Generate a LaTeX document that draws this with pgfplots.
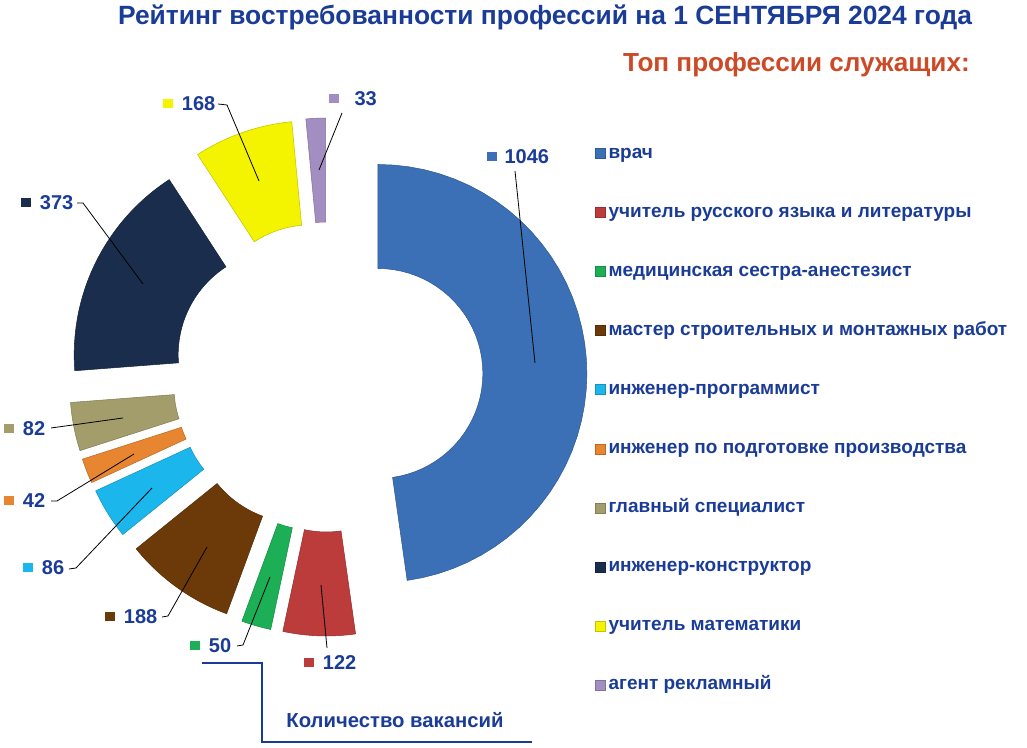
\documentclass[border=0pt]{standalone}
\usepackage{pgfplots}
\pgfplotsset{compat=1.18}
\usepackage{fontspec}
\setmainfont{Liberation Sans}

\definecolor{cVrach}{HTML}{3B70B6}
\definecolor{cRus}{HTML}{BC3B3B}
\definecolor{cMed}{HTML}{1DAF55}
\definecolor{cMaster}{HTML}{6B3A08}
\definecolor{cProg}{HTML}{1BB7EC}
\definecolor{cPodg}{HTML}{E88530}
\definecolor{cGlav}{HTML}{A29D6B}
\definecolor{cKonstr}{HTML}{1A2D4C}
\definecolor{cMath}{HTML}{F4F400}
\definecolor{cAgent}{HTML}{A28EC0}
\definecolor{txtblue}{HTML}{1A3C96}
\definecolor{subred}{HTML}{CC4A26}

% data (number of vacancies)
\def\vA{1046}\def\vB{122}\def\vC{50}\def\vD{188}\def\vE{86}
\def\vF{42}\def\vG{82}\def\vH{373}\def\vI{168}\def\vJ{33}
\pgfmathsetmacro\total{\vA+\vB+\vC+\vD+\vE+\vF+\vG+\vH+\vI+\vJ}
\def\Cx{328}\def\Cy{371}\def\Dx{50}\def\Ro{209}\def\Ri{105}
\def\cum{0}
\newcommand{\seg}[2]{%
  \pgfmathsetmacro\aA{90-360*(\cum/\total)}%
  \pgfmathsetmacro\newcum{\cum+#1}%
  \xdef\cum{\newcum}%
  \pgfmathsetmacro\aB{90-360*(\cum/\total)}%
  \pgfmathsetmacro\cx{\Cx+\Dx*cos((\aA+\aB)/2)}%
  \pgfmathsetmacro\cy{\Cy+\Dx*sin((\aA+\aB)/2)}%
  \addplot[fill=#2, draw=#2!80!black, line width=0.4pt, samples at={0,1,...,40,100,101,...,140}, variable=\t]
   ({\cx+(\t<50?\Ro:\Ri)*cos(\t<50?\aA+(\aB-\aA)*\t/40:\aB-(\aB-\aA)*(\t-100)/40)},
    {\cy+(\t<50?\Ro:\Ri)*sin(\t<50?\aA+(\aB-\aA)*\t/40:\aB-(\aB-\aA)*(\t-100)/40)}) -- cycle;
}
\newcommand{\sq}[1]{\textcolor{#1}{\rule[2pt]{7pt}{7pt}}}

\begin{document}
\begin{tikzpicture}
\begin{axis}[
  x=0.75pt, y=0.75pt,
  xmin=0, xmax=1027, ymin=0, ymax=748,
  enlargelimits=false, hide axis, clip=false,
  legend style={at={(axis description cs:0.5794,0.8068)}, anchor=north west,
    draw=none, fill=none, inner sep=0pt, row sep=31.3pt, column sep=2pt,
    font=\fontsize{14.25}{16}\selectfont\bfseries, text=txtblue,
    nodes={inner sep=0pt, text height=10pt, text depth=3pt}},
  legend cell align=left,
  legend image code/.code={\fill[#1] (0pt,-3.75pt) rectangle (7.5pt,3.75pt);},
]
\addplot[draw=none, forget plot] coordinates {(0,0) (1027,748)};
\seg{\vA}{cVrach}\addlegendentry{врач}
\seg{\vB}{cRus}\addlegendentry{учитель русского языка и литературы}
\seg{\vC}{cMed}\addlegendentry{медицинская сестра-анестезист}
\seg{\vD}{cMaster}\addlegendentry{мастер строительных и монтажных работ}
\seg{\vE}{cProg}\addlegendentry{инженер-программист}
\seg{\vF}{cPodg}\addlegendentry{инженер по подготовке производства}
\seg{\vG}{cGlav}\addlegendentry{главный специалист}
\seg{\vH}{cKonstr}\addlegendentry{инженер-конструктор}
\seg{\vI}{cMath}\addlegendentry{учитель математики}
\seg{\vJ}{cAgent}\addlegendentry{агент рекламный}

% leader lines
\addplot[black, line width=0.6pt, forget plot] coordinates {(515,577) (535,385)};
\addplot[black, line width=0.6pt, forget plot] coordinates {(327,100) (321,163)};
\addplot[black, line width=0.6pt, forget plot] coordinates {(237,102) (243,103) (270,171)};
\addplot[black, line width=0.6pt, forget plot] coordinates {(162,131) (168,132) (207,201)};
\addplot[black, line width=0.6pt, forget plot] coordinates {(69,179) (76,180) (152,260)};
\addplot[black, line width=0.6pt, forget plot] coordinates {(51,247) (57,247) (134,294)};
\addplot[black, line width=0.6pt, forget plot] coordinates {(51,320) (123,330)};
\addplot[black, line width=0.6pt, forget plot] coordinates {(77,545) (83,545) (143,464)};
\addplot[black, line width=0.6pt, forget plot] coordinates {(218,644) (227,643) (259,567)};
\addplot[black, line width=0.6pt, forget plot] coordinates {(342,635) (319,578)};
% bracket
\addplot[txtblue, line width=2pt, forget plot] coordinates {(202,85) (262,85) (262,6) (532,6)};

% value labels
\node[anchor=west, inner sep=0pt, font=\fontsize{15}{18}\selectfont\bfseries, text=txtblue] at (axis cs:487,591) {\sq{cVrach}\hspace{6pt}\vA};
\node[anchor=west, inner sep=0pt, font=\fontsize{15}{18}\selectfont\bfseries, text=txtblue] at (axis cs:304,85) {\sq{cRus}\hspace{7pt}\vB};
\node[anchor=west, inner sep=0pt, font=\fontsize{15}{18}\selectfont\bfseries, text=txtblue] at (axis cs:190,102) {\sq{cMed}\hspace{7pt}\vC};
\node[anchor=west, inner sep=0pt, font=\fontsize{15}{18}\selectfont\bfseries, text=txtblue] at (axis cs:105,131) {\sq{cMaster}\hspace{7pt}\vD};
\node[anchor=west, inner sep=0pt, font=\fontsize{15}{18}\selectfont\bfseries, text=txtblue] at (axis cs:23,180) {\sq{cProg}\hspace{7pt}\vE};
\node[anchor=west, inner sep=0pt, font=\fontsize{15}{18}\selectfont\bfseries, text=txtblue] at (axis cs:4,247) {\sq{cPodg}\hspace{7pt}\vF};
\node[anchor=west, inner sep=0pt, font=\fontsize{15}{18}\selectfont\bfseries, text=txtblue] at (axis cs:4,319) {\sq{cGlav}\hspace{7pt}\vG};
\node[anchor=west, inner sep=0pt, font=\fontsize{15}{18}\selectfont\bfseries, text=txtblue] at (axis cs:21,545) {\sq{cKonstr}\hspace{7pt}\vH};
\node[anchor=west, inner sep=0pt, font=\fontsize{15}{18}\selectfont\bfseries, text=txtblue] at (axis cs:163,644) {\sq{cMath}\hspace{7pt}\vI};
\node[anchor=west, inner sep=0pt, font=\fontsize{15}{18}\selectfont\bfseries, text=txtblue] at (axis cs:329,649) {\sq{cAgent}\hspace{12pt}\vJ};

% titles
\node[font=\bfseries\fontsize{19.8}{24}\selectfont, text=txtblue, inner sep=0pt] at (axis cs:545,731) {Рейтинг востребованности профессий на 1 СЕНТЯБРЯ 2024 года};
\node[anchor=east, font=\bfseries\fontsize{19.6}{23}\selectfont, text=subred, inner sep=0pt] at (axis cs:970,683) {Топ профессии служащих:};
\node[font=\bfseries\fontsize{15.2}{18}\selectfont, text=txtblue, inner sep=0pt] at (axis cs:395,28) {Количество вакансий};
\end{axis}
\end{tikzpicture}
\end{document}
